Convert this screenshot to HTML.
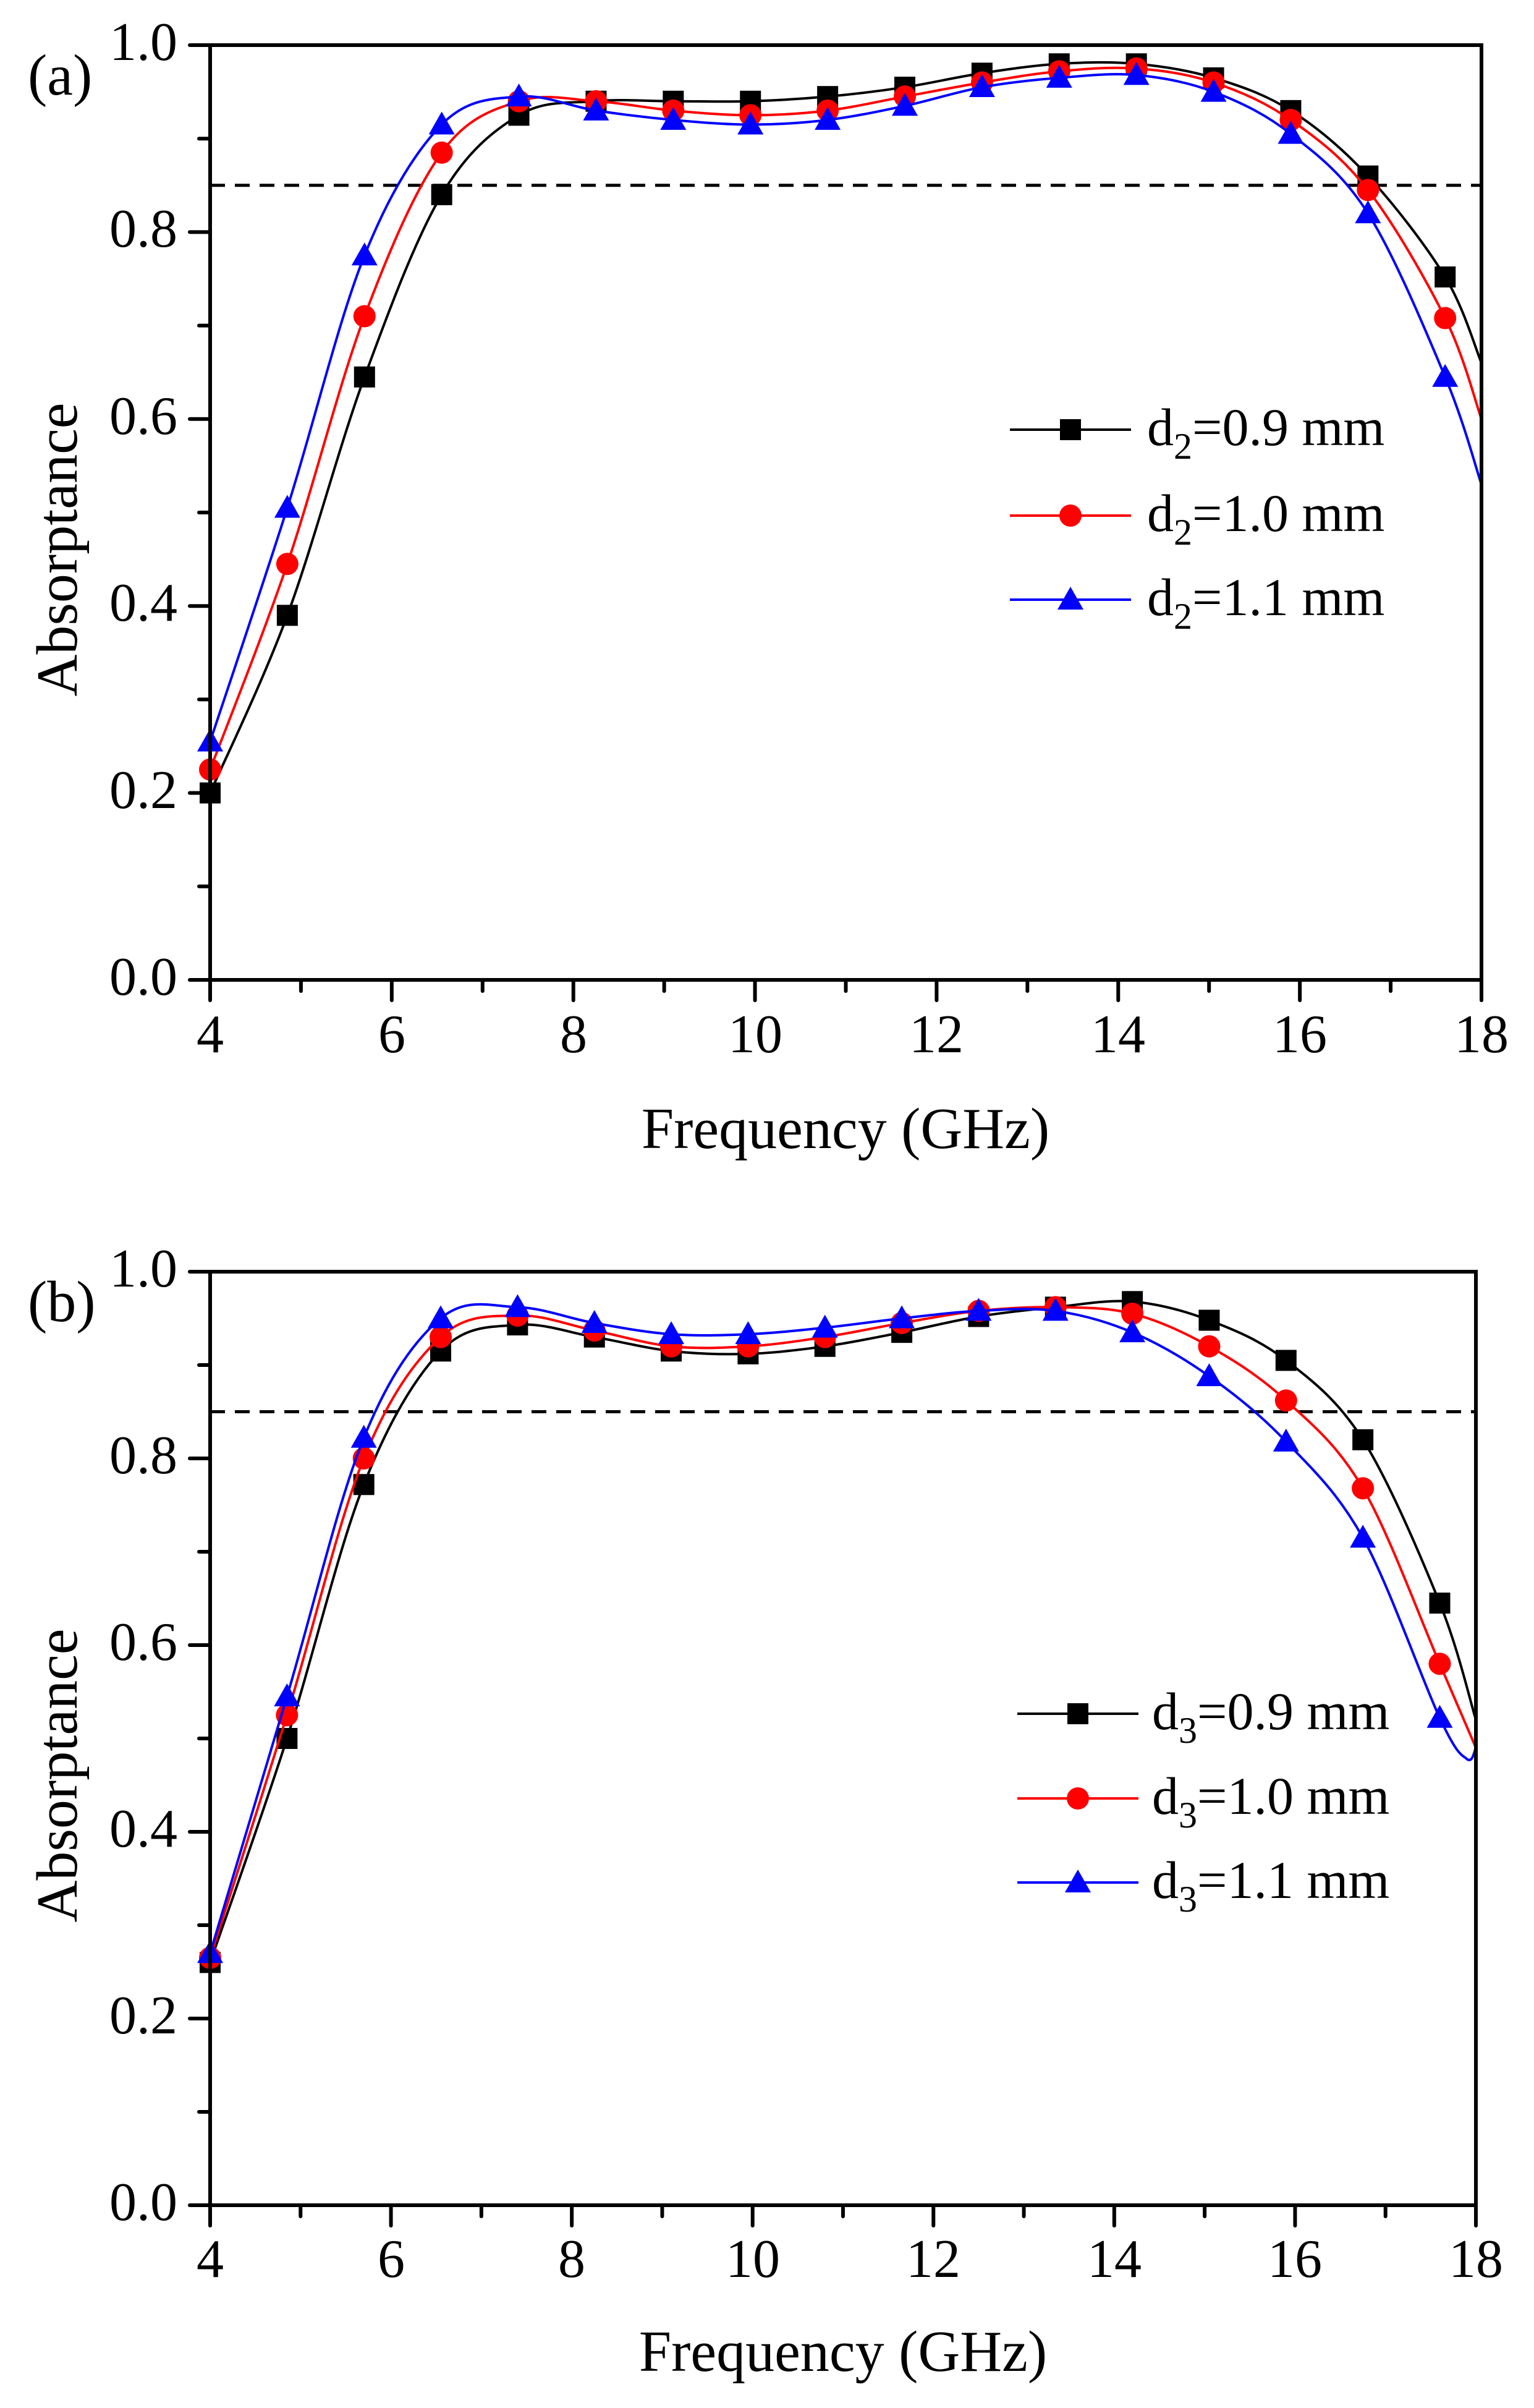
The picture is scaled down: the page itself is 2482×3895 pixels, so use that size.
<!DOCTYPE html>
<html><head><meta charset="utf-8"><style>
html,body{margin:0;padding:0;background:#fff}
svg text{font-family:"Liberation Serif",serif;fill:#000}
</style></head><body>
<svg id="s" width="2482" height="3890" viewBox="0 0 2482 3890" xmlns="http://www.w3.org/2000/svg">
<rect width="2482" height="3890" fill="#fff"/>
<g id="g"></g>
<!-- Panel a text -->
<text x="45" y="153" font-size="94">(a)</text>
<g font-size="88" text-anchor="end">
<text x="287" y="97">1.0</text><text x="287" y="399">0.8</text><text x="287" y="702">0.6</text>
<text x="287" y="1004">0.4</text><text x="287" y="1307">0.2</text><text x="287" y="1609">0.0</text>
</g>
<g font-size="88" text-anchor="middle">
<text x="340" y="1702">4</text><text x="634" y="1702">6</text><text x="928" y="1702">8</text>
<text x="1222" y="1702">10</text><text x="1515" y="1702">12</text><text x="1809" y="1702">14</text>
<text x="2103" y="1702">16</text><text x="2397" y="1702">18</text>
</g>
<text x="1368" y="1857" font-size="94" text-anchor="middle">Frequency (GHz)</text>
<text transform="translate(124,889) rotate(-90)" font-size="94" text-anchor="middle">Absorptance</text>
<g font-size="86">
<text x="1856" y="720">d<tspan font-size="60" dy="22">2</tspan><tspan dy="-22">=0.9 mm</tspan></text>
<text x="1856" y="859">d<tspan font-size="60" dy="22">2</tspan><tspan dy="-22">=1.0 mm</tspan></text>
<text x="1856" y="995">d<tspan font-size="60" dy="22">2</tspan><tspan dy="-22">=1.1 mm</tspan></text>
</g>
<!-- Panel b text -->
<text x="45" y="2137" font-size="94">(b)</text>
<g font-size="88" text-anchor="end">
<text x="287" y="2081">1.0</text><text x="287" y="2383">0.8</text><text x="287" y="2685">0.6</text>
<text x="287" y="2987">0.4</text><text x="287" y="3289">0.2</text><text x="287" y="3591">0.0</text>
</g>
<g font-size="88" text-anchor="middle">
<text x="340" y="3683">4</text><text x="633" y="3683">6</text><text x="925" y="3683">8</text>
<text x="1218" y="3683">10</text><text x="1510" y="3683">12</text><text x="1803" y="3683">14</text>
<text x="2095" y="3683">16</text><text x="2388" y="3683">18</text>
</g>
<text x="1364" y="3835" font-size="94" text-anchor="middle">Frequency (GHz)</text>
<text transform="translate(124,2872) rotate(-90)" font-size="94" text-anchor="middle">Absorptance</text>
<g font-size="86">
<text x="1864" y="2797">d<tspan font-size="60" dy="22">3</tspan><tspan dy="-22">=0.9 mm</tspan></text>
<text x="1864" y="2934">d<tspan font-size="60" dy="22">3</tspan><tspan dy="-22">=1.0 mm</tspan></text>
<text x="1864" y="3070">d<tspan font-size="60" dy="22">3</tspan><tspan dy="-22">=1.1 mm</tspan></text>
</g>
</svg>
<script>
(function(){
var NS="http://www.w3.org/2000/svg",g=document.getElementById("g");
function el(t,a){var e=document.createElementNS(NS,t);for(var k in a)e.setAttribute(k,a[k]);g.appendChild(e);return e;}
var X0=340;
var fs=[];for(var i=0;i<17;i++)fs.push(4+i*0.85);
var cols=["#000","#f00","#00f"];
function marker(type,x,y,c){
 if(type==0)el("rect",{x:x-17,y:y-17,width:34,height:34,fill:c});
 else if(type==1)el("circle",{cx:x,cy:y,r:18,fill:c});
 else el("polygon",{points:(x)+","+(y-21)+" "+(x-21)+","+(y+16)+" "+(x+21)+","+(y+16),fill:c});
}
function smooth(pts){
 var d="M"+pts[0][0]+","+pts[0][1];
 for(var i=0;i<pts.length-1;i++){
  var p0=pts[Math.max(i-1,0)],p1=pts[i],p2=pts[i+1],p3=pts[Math.min(i+2,pts.length-1)];
  var c1=[p1[0]+(p2[0]-p0[0])/6,p1[1]+(p2[1]-p0[1])/6],c2=[p2[0]-(p3[0]-p1[0])/6,p2[1]-(p3[1]-p1[1])/6];
  d+=" C"+c1[0]+","+c1[1]+" "+c2[0]+","+c2[1]+" "+p2[0]+","+p2[1];
 }
 return d;
}
function panel(X1,Ytop,Ybot,data,ends,legX,legY){
 var sx=(X1-X0)/14;
 var xp=function(f){return X0+(f-4)*sx;};
 var yp=function(v){return Ybot-(Ybot-Ytop)*v;};
 el("line",{x1:X0,y1:yp(0.85),x2:X1,y2:yp(0.85),stroke:"#000","stroke-width":5,"stroke-dasharray":"24,16"});
 for(var s=0;s<3;s++){
  var pts=fs.map(function(f,i){return [xp(f),yp(data[s][i])];});
  ends[s].forEach(function(e){pts.push([xp(e[0]),yp(e[1])]);});
  el("path",{d:smooth(pts),fill:"none",stroke:cols[s],"stroke-width":4});
  fs.forEach(function(f,i){marker(s,xp(f),yp(data[s][i]),cols[s]);});
  var ly=legY[s];
  el("line",{x1:legX,y1:ly,x2:legX+196,y2:ly,stroke:cols[s],"stroke-width":4});
  marker(s,legX+98,ly,cols[s]);
 }
 el("rect",{x:X0,y:Ytop,width:X1-X0,height:Ybot-Ytop,fill:"none",stroke:"#000","stroke-width":6});
 for(var f=4;f<=18;f++){var L=(f%2==0)?33:18;el("line",{x1:xp(f),y1:Ybot,x2:xp(f),y2:Ybot+L,stroke:"#000","stroke-width":6,"stroke-linecap":"round"});}
 for(var k=0;k<=10;k++){var L=(k%2==0)?33:18;var y=yp(k/10);el("line",{x1:X0,y1:y,x2:X0-L,y2:y,stroke:"#000","stroke-width":6,"stroke-linecap":"round"});}
}
panel(2397,73,1585,[
[0.20,0.39,0.645,0.84,0.925,0.94,0.94,0.94,0.945,0.955,0.97,0.98,0.98,0.965,0.93,0.86,0.752],
[0.225,0.445,0.71,0.885,0.94,0.94,0.93,0.925,0.93,0.945,0.96,0.972,0.975,0.96,0.92,0.845,0.708],
[0.255,0.505,0.775,0.915,0.945,0.93,0.92,0.915,0.92,0.935,0.955,0.965,0.968,0.95,0.905,0.82,0.645]
],[[[18,0.66]],[[18,0.6]],[[18,0.53]]],1634,[695,834,970]);
panel(2388,2057,3567,[
[0.26,0.50,0.772,0.915,0.943,0.93,0.915,0.912,0.92,0.935,0.952,0.962,0.968,0.948,0.905,0.82,0.645],
[0.265,0.525,0.80,0.93,0.953,0.937,0.92,0.92,0.93,0.945,0.958,0.962,0.955,0.92,0.862,0.768,0.58],
[0.27,0.545,0.822,0.95,0.962,0.945,0.933,0.933,0.94,0.95,0.958,0.958,0.935,0.888,0.818,0.715,0.522]
],[[[18,0.52]],[[18,0.49]],[[17.9,0.478],[18,0.49]]],1646,[2772,2909,3045]);
})();
</script>
</body></html>
